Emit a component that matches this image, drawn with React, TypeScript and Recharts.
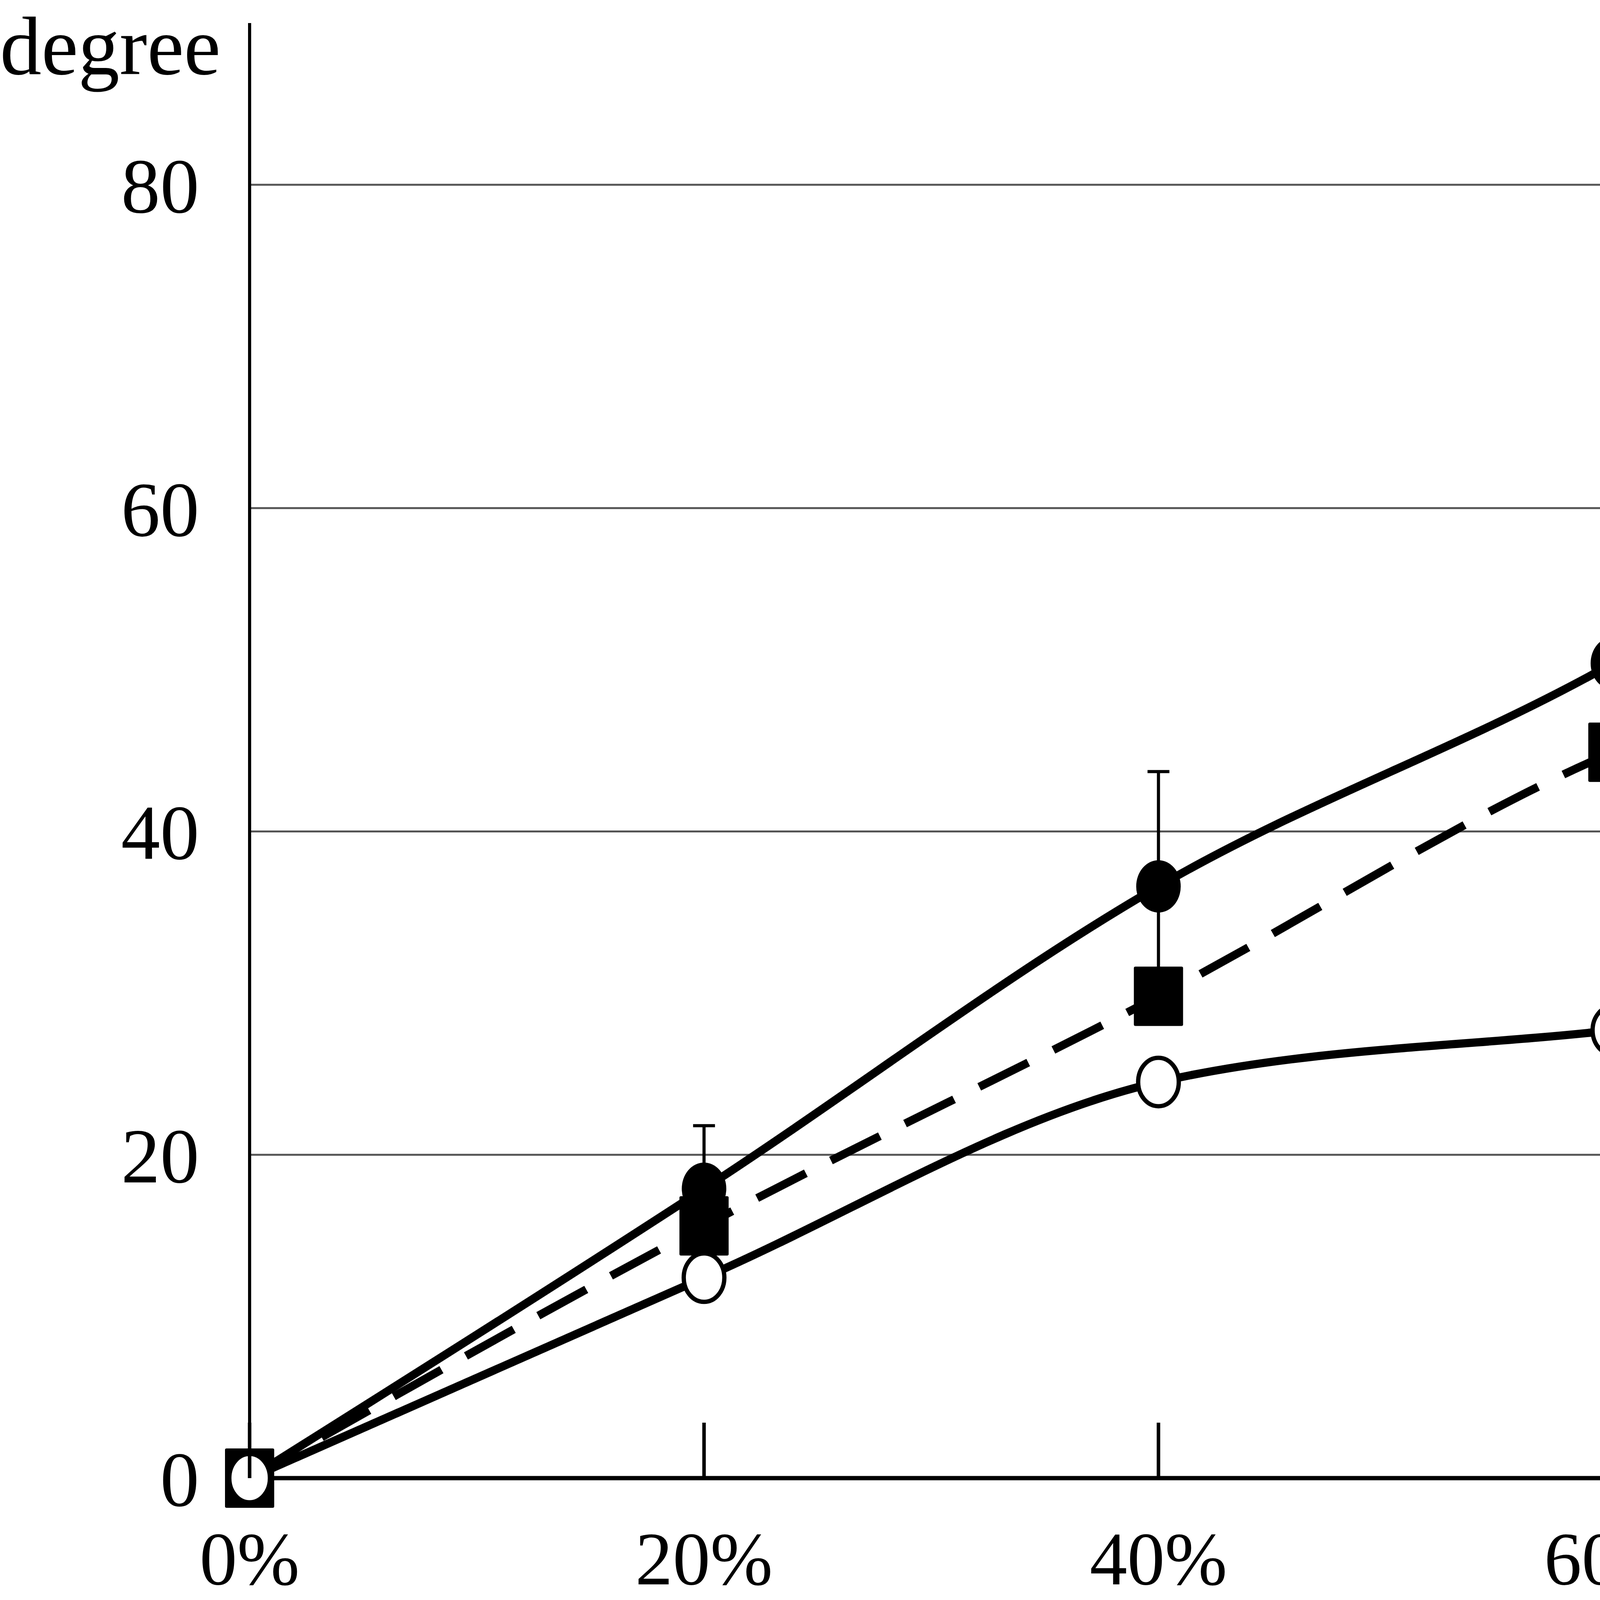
import { LineChart, Line, XAxis, YAxis, CartesianGrid, ErrorBar } from 'recharts'

// load (% of max) on the x axis
const loads = [0, 20, 40, 60, 80, 100]

// mean rotation in degrees
const irsMean = [0, 17.9, 36.6, 50.4, 68.2, 72.2]
const iraMean = [0, 15.6, 29.8, 44.9, 53.8, 56.6]
const irpMean = [0, 12.4, 24.5, 27.7, 30.8, 31.6]

// standard deviations (error bars)
const irsSd = [0, 3.9, 7.1, 11.4, 15.2, 6.0]
const iraSd = [0, 1.0, 1.0, 5.7, 1.0, 4.6]
const irpSd = [0, 1.0, 1.0, 4.6, 6.0, 6.8]

const xTicks = [0, 20, 40, 60, 80, 100]
const yTicks = [0, 20, 40, 60, 80]
const seriesNames = ['IRs', 'IRa', 'IRp']

const data = loads.map((x, i) => ({
  x,
  IRs: irsMean[i],
  IRsSd: irsSd[i],
  IRa: iraMean[i],
  IRaSd: iraSd[i],
  IRp: irpMean[i],
  IRpSd: irpSd[i],
}))

const W = 7635
const H = 4101
const FONT = '"Liberation Serif", "Times New Roman", serif'

type Kind = 'filled' | 'square' | 'open'
const kinds: Record<string, Kind> = { IRs: 'filled', IRa: 'square', IRp: 'open' }

function Marker({ cx, cy, kind, s = 1 }: { cx: number; cy: number; kind: Kind; s?: number }) {
  if (kind === 'square')
    return <rect x={cx - 63 * s} y={cy - 76 * s} width={126 * s} height={152 * s} rx={4} fill="#000" />
  if (kind === 'open')
    return <ellipse cx={cx} cy={cy} rx={52 * s} ry={62 * s} fill="#fff" stroke="#000" strokeWidth={11} />
  return <ellipse cx={cx} cy={cy} rx={57 * s} ry={67 * s} fill="#000" />
}

const dotFor = (kind: Kind) => (p: any) =>
  p.cx == null ? <g key={p.index} /> : <Marker key={p.index} cx={p.cx} cy={p.cy} kind={kind} />

function XTick({ x, y, payload }: any) {
  return (
    <g>
      <line x1={x} x2={x} y1={y - 142} y2={y} stroke="#000" strokeWidth={9} />
      <text x={x} y={y + 272} textAnchor="middle" fontSize={192} fontFamily={FONT} fill="#000">
        {payload.value}%
      </text>
    </g>
  )
}

// legend items: line start, marker centre, text start
const legendPos = [
  { x1: 4693, x2: 5127, m: 4904, t: 5248 },
  { x1: 5694, x2: 6130, m: 5906, t: 6265 },
  { x1: 6716, x2: 7155, m: 6932, t: 7281 },
]

function LegendBox() {
  return (
    <svg width={W} height={220} style={{ position: 'absolute', left: 0, top: 0, display: 'block' }}>
      {seriesNames.map((name, i) => {
        const p = legendPos[i]
        const k = kinds[name]
        return (
          <g key={name}>
            <line
              x1={p.x1}
              x2={p.x2}
              y1={82}
              y2={82}
              stroke="#000"
              strokeWidth={24}
              strokeDasharray={k === 'square' ? '84 267 85' : undefined}
            />
            <Marker cx={p.m} cy={82} kind={k} s={1.1} />
            <text x={p.t} y={160} fontSize={178} fontFamily={FONT} fill="#000">
              {name}
            </text>
          </g>
        )
      })}
    </svg>
  )
}

export default function App() {
  return (
    <div style={{ width: W, height: H, background: '#fff', position: 'relative' }}>
      <style>{'body{margin:0;overflow:hidden;background:#fff}'}</style>
      <LineChart width={W} height={H} data={data} margin={{ top: 59, right: 16, bottom: 0, left: 0 }}>
        <CartesianGrid vertical={false} stroke="#555" strokeWidth={5} horizontalValues={yTicks} />
        <XAxis
          dataKey="x"
          type="number"
          domain={[0, 120]}
          ticks={xTicks}
          height={317}
          axisLine={{ stroke: '#000', strokeWidth: 11 }}
          tickLine={false}
          tickSize={0}
          tickMargin={0}
          tick={<XTick />}
          interval={0}
        />
        <YAxis
          type="number"
          domain={[0, 90]}
          ticks={yTicks}
          width={639}
          axisLine={{ stroke: '#000', strokeWidth: 8 }}
          tickLine={false}
          tickSize={0}
          tickMargin={129}
          tick={{ fontSize: 200, fontFamily: FONT, fill: '#000' }}
          interval={0}
          label={{
            content: () => (
              <text x={0} y={190} fontSize={212} fontFamily={FONT} fill="#000">
                degree
              </text>
            ),
          }}
        />
        <Line
          dataKey="IRs"
          type="monotone"
          stroke="#000"
          strokeWidth={21}
          dot={dotFor('filled')}
          activeDot={false}
          isAnimationActive={false}
        >
          <ErrorBar dataKey="IRsSd" direction="y" width={28} stroke="#000" strokeWidth={8} />
        </Line>
        <Line
          dataKey="IRa"
          type="monotone"
          stroke="#000"
          strokeWidth={21}
          strokeDasharray="140 72"
          dot={dotFor('square')}
          activeDot={false}
          isAnimationActive={false}
        >
          <ErrorBar dataKey="IRaSd" direction="y" width={28} stroke="#000" strokeWidth={8} />
        </Line>
        <Line
          dataKey="IRp"
          type="monotone"
          stroke="#000"
          strokeWidth={21}
          dot={dotFor('open')}
          activeDot={false}
          isAnimationActive={false}
        >
          <ErrorBar dataKey="IRpSd" direction="y" width={28} stroke="#000" strokeWidth={8} />
        </Line>
      </LineChart>
      <LegendBox />
    </div>
  )
}
